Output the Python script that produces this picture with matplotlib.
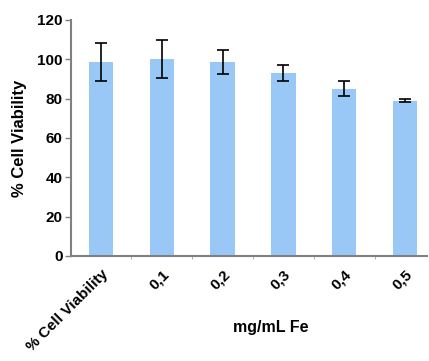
import numpy as np
import matplotlib.pyplot as plt

# data
labels = ['% Cell Viability', '0,1', '0,2', '0,3', '0,4', '0,5']
viability = [98.5, 100, 98.5, 93, 85, 79]
errors = [9.5, 9.6, 6, 4, 3.8, 0.7]

plt.rcParams['font.family'] = ['Liberation Sans', 'DejaVu Sans']
plt.rcParams['font.weight'] = 'bold'

fig = plt.figure(figsize=(4.29, 3.61), dpi=100)
ax = fig.add_axes([0.1655, 0.291, 0.83, 0.654])

x = np.arange(len(labels))
ax.bar(x, viability, width=0.4, color='#99c8f7', zorder=2)
ax.errorbar(x, viability, yerr=errors, fmt='none', ecolor='black',
            elinewidth=1.2, capsize=4, capthick=1.2, zorder=3)

ax.set_ylim(0, 120)
ax.set_xlim(-0.49, 5.36)
ax.set_yticks([0, 20, 40, 60, 80, 100, 120])
ax.set_xticks(x)
ax.set_xticklabels(labels, rotation=45, ha='right', rotation_mode='anchor',
                   fontsize=11, fontweight='bold')
ax.tick_params(axis='y', labelsize=11, length=4, width=1, color='#808080', pad=2)
ax.tick_params(axis='x', length=0, pad=8)
ax.set_xticks(x[:-1] + 0.5, minor=True)
ax.tick_params(axis='x', which='minor', length=2, color='#a0a0a0')

for s in ['top', 'right']:
    ax.spines[s].set_visible(False)
for s in ['left', 'bottom']:
    ax.spines[s].set_color('#808080')
    ax.spines[s].set_linewidth(1.5)

ax.set_ylabel('% Cell Viability', fontsize=12, fontweight='bold')
ax.yaxis.set_label_coords(-0.124, 0.5)
ax.set_xlabel('mg/mL Fe', fontsize=11.5, fontweight='bold')
ax.xaxis.set_label_coords(0.56, -0.27)

fig.savefig('out.png', dpi=100)
